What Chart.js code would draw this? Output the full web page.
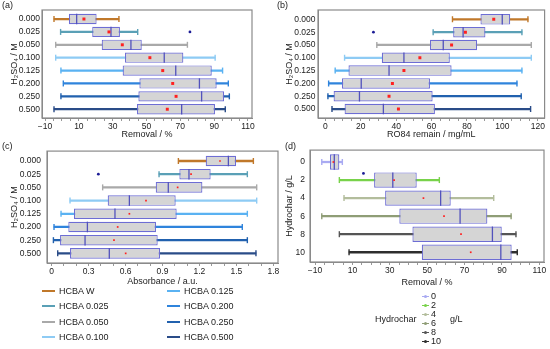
<!DOCTYPE html>
<html>
<head>
<meta charset="utf-8">
<script src="https://cdn.jsdelivr.net/npm/chart.js@4.4.1/dist/chart.umd.min.js"></script>
<style>
  body { margin: 0; width: 550px; height: 349px; background: #fff; position: relative; overflow: hidden;
         font-family: "Liberation Sans", Arial, sans-serif; color: #222; }
  canvas { position: absolute; }
  .t { position: absolute; font-size: 9px; line-height: 12px; white-space: nowrap; }
  .ln { position: absolute; height: 2px; width: 13px; }
</style>
</head>
<body>
<canvas id="ca" width="275" height="142" style="left:0;top:0"></canvas>
<canvas id="cb" width="275" height="142" style="left:275px;top:0"></canvas>
<canvas id="cc" width="285" height="150" style="left:0;top:140px"></canvas>
<canvas id="cd" width="275" height="150" style="left:275px;top:140px"></canvas>
<div class="t" style="left:2px;top:-1px">(a)</div>
<div class="t" style="left:277px;top:-1px">(b)</div>
<div class="t" style="left:2px;top:140px">(c)</div>
<div class="t" style="left:285px;top:140px">(d)</div>
<div id="legC"></div>
<div id="legD"></div>
<script>
// categories
const acidLabels = ['0.000', '0.025', '0.050', '0.100', '0.125', '0.200', '0.250', '0.500'];
const acidNames = ['HCBA W', 'HCBA 0.025', 'HCBA 0.050', 'HCBA 0.100', 'HCBA 0.125', 'HCBA 0.200', 'HCBA 0.250', 'HCBA 0.500'];
const charLabels = ['0', '2', '4', '6', '8', '10'];

// (a) removal / %
const aMin  = [-4.7, -0.8, -3.7, -3.7, -0.6, 0.8, -0.6, -4.7];
const aQ1   = [4.1, 17.9, 23.5, 37.3, 35.9, 45.8, 45.2, 44.4];
const aMed  = [8.7, 29.0, 40.8, 60.5, 67.3, 81.3, 82.6, 70.8];
const aQ3   = [20.5, 34.3, 47.2, 71.8, 88.6, 91.5, 95.9, 90.5];
const aMax  = [33.7, 44.8, 74.2, 90.6, 95.0, 98.4, 99.0, 96.6];
const aMean = [13.0, 27.8, 35.7, 52.0, 59.6, 65.5, 67.5, 62.3];
const aOut  = [{ x: 75.7, y: 1 }];

// (b) RO84 remain / mg/mL
const bMin  = [71.8, 60.9, 29.1, 10.9, 5.6, 1.9, 1.5, 3.8];
const bQ1   = [87.6, 72.2, 59.1, 31.9, 13.1, 9.4, 4.7, 10.9];
const bMed  = [99.9, 77.8, 66.6, 44.4, 36.0, 20.3, 19.3, 32.8];
const bQ3   = [104.4, 90.4, 85.7, 70.3, 71.3, 59.1, 60.6, 61.9];
const bMax  = [114.4, 111.0, 116.3, 116.3, 111.0, 108.2, 110.6, 115.9];
const bMean = [95.1, 79.1, 71.3, 53.4, 44.4, 37.9, 36.0, 41.3];
const bOut  = [{ x: 27.2, y: 1 }];

// (c) absorbance / a.u.
const cMin  = [1.029, 0.872, 0.414, 0.149, 0.076, 0.019, 0.014, 0.049];
const cQ1   = [1.251, 1.037, 0.845, 0.455, 0.181, 0.135, 0.068, 0.149];
const cMed  = [1.435, 1.115, 0.947, 0.631, 0.514, 0.290, 0.271, 0.468];
const cQ3   = [1.497, 1.291, 1.224, 1.007, 1.015, 0.847, 0.861, 0.880];
const cMax  = [1.638, 1.589, 1.665, 1.665, 1.589, 1.548, 1.589, 1.659];
const cMean = [1.367, 1.132, 1.023, 0.766, 0.631, 0.536, 0.506, 0.601];
const cOut  = [{ x: 0.379, y: 1 }];

// (d) removal / % by hydrochar dose
const dMin  = [-6.4, 3.0, 5.5, -6.4, 3.0, 8.2];
const dQ1   = [-2.0, 21.6, 27.5, 35.1, 42.1, 47.1];
const dMed  = [0.3, 31.6, 57.2, 67.6, 84.9, 89.4];
const dQ3   = [3.0, 44.4, 62.6, 82.2, 89.9, 95.2];
const dMax  = [4.6, 56.5, 85.6, 94.9, 97.5, 98.2];
const dMean = [-0.2, 32.3, 48.0, 59.0, 68.1, 73.3];
const dOut  = [{ x: 15.9, y: 0.63 }];

// tick labels
const removalTicks = [-10, 10, 30, 50, 70, 90, 110];
const remainTicks = [0, 20, 40, 60, 80, 100, 120];
const absTicks = [0, 0.3, 0.6, 0.9, 1.2, 1.5, 1.8];

const acidColors = ['#c0782a', '#5aa0b6', '#a9a9a9', '#8ecbf4', '#5ab2f2', '#2f84dc', '#2161ae', '#2a4c88'];
const charColors = ['#a9aaf2', '#78d24a', '#b3bd9c', '#8f9d76', '#555555', '#2e2e2e'];

const fmt = v => (v < 0 ? '\u2212' + Math.abs(v) : String(v));

const framePlugin = {
  id: 'frame',
  afterDatasetsDraw(chart) {
    const { ctx, chartArea: a } = chart;
    ctx.save();
    ctx.strokeStyle = '#8a8a8a';
    ctx.lineWidth = 1.2;
    ctx.strokeRect(a.left, a.top, a.right - a.left, a.bottom - a.top);
    ctx.restore();
  }
};

function boxPlot(id, p) {
  const rows = p.labels.map((_, i) => i);
  const halfBox = ctx => {
    const y = ctx.chart.scales.y;
    return Math.abs(y.getPixelForValue(1) - y.getPixelForValue(0)) * p.boxFrac / 2;
  };
  const minorTicks = [];
  for (let v = Math.ceil(p.xMin / p.minor) * p.minor; v <= p.xMax; v += p.minor) {
    minorTicks.push(Math.round(v * 1000) / 1000);
  }
  const isMajor = v => p.ticks.some(t => Math.abs(t - v) < 1e-6);

  new Chart(document.getElementById(id), {
    type: 'bar',
    data: {
      datasets: [
        { label: 'whisker', data: rows.map(i => ({ x: [p.min[i], p.max[i]], y: i })),
          backgroundColor: p.colors, barThickness: 1.6, grouped: false, order: 6 },
        { label: 'box', data: rows.map(i => ({ x: [p.q1[i], p.q3[i]], y: i })),
          backgroundColor: '#d5d5d5', borderColor: '#6d6dd4', borderWidth: 1.2, borderSkipped: false,
          barPercentage: p.boxFrac, categoryPercentage: 1, grouped: false, order: 5 },
        { type: 'line', label: 'median', data: rows.map(i => ({ x: p.med[i], y: i })), showLine: false,
          pointStyle: 'line', pointRotation: 90, pointRadius: halfBox, pointHoverRadius: halfBox,
          pointBorderColor: '#5252bc', pointBorderWidth: 1.3, order: 4 },
        { type: 'line', label: 'caps', data: rows.flatMap(i => [{ x: p.min[i], y: i }, { x: p.max[i], y: i }]),
          showLine: false, pointStyle: 'line', pointRotation: 90, pointRadius: 3,
          pointBorderColor: rows.flatMap(i => [p.colors[i], p.colors[i]]), pointBorderWidth: 1.4, order: 3 },
        { type: 'line', label: 'mean', data: rows.map(i => ({ x: p.mean[i], y: i })), showLine: false,
          pointStyle: 'rect', pointRadius: p.meanR, pointBackgroundColor: '#ff2020', pointBorderWidth: 0, order: 2 },
        { type: 'line', label: 'outlier', data: p.out, showLine: false,
          pointStyle: 'circle', pointRadius: 1.4, pointBackgroundColor: '#1c1c96', pointBorderWidth: 0, order: 1 }
      ]
    },
    options: {
      responsive: false,
      animation: false,
      devicePixelRatio: 1,
      indexAxis: 'y',
      events: [],
      layout: { padding: p.pad },
      plugins: { legend: { display: false }, tooltip: { enabled: false } },
      scales: {
        x: {
          type: 'linear', min: p.xMin, max: p.xMax,
          afterBuildTicks: s => { s.ticks = minorTicks.map(v => ({ value: v })); },
          afterFit: s => { s.height = p.xH; },
          ticks: { autoSkip: false, maxRotation: 0, padding: 1, color: '#222', font: { size: 8.5 },
                   callback: v => (isMajor(v) ? fmt(v) : '') },
          grid: { drawOnChartArea: false, tickLength: 3, color: '#999' },
          border: { color: '#8a8a8a' },
          title: { display: true, text: p.xTitle, color: '#222', font: { size: 9 },
                   padding: { top: 0, bottom: p.xTitlePad } }
        },
        y: {
          type: 'linear', reverse: true, offset: false, min: p.yMin, max: p.yMax,
          afterBuildTicks: s => { s.ticks = rows.map(v => ({ value: v })); },
          afterFit: s => { s.width = p.yW; },
          ticks: { autoSkip: false, padding: p.yPad, color: '#222', font: { size: 8.5 },
                   callback: v => p.labels[v] },
          grid: { display: false, drawTicks: false },
          border: { color: '#8a8a8a' },
          title: { display: true, text: p.yTitle, color: '#222', font: { size: 9 },
                   padding: { top: 9, bottom: 0 } }
        }
      }
    },
    plugins: [framePlugin]
  });
}

boxPlot('ca', {
  labels: acidLabels, colors: acidColors,
  min: aMin, q1: aQ1, med: aMed, q3: aQ3, max: aMax, mean: aMean, out: aOut,
  ticks: removalTicks, minor: 5, xMin: -11.8, xMax: 112.4, yMin: -0.7, yMax: 7.68,
  xTitle: 'Removal / %', yTitle: 'H\u2082SO\u2084 / M',
  pad: { left: 0, top: 10, right: 23, bottom: 0 }, yW: 42, xH: 24, xTitlePad: 2, yPad: 2,
  boxFrac: 0.8, meanR: 2.1
});

boxPlot('cb', {
  labels: acidLabels, colors: acidColors,
  min: bMin, q1: bQ1, med: bMed, q3: bQ3, max: bMax, mean: bMean, out: bOut,
  ticks: remainTicks, minor: 5, xMin: -4.1, xMax: 123.8, yMin: -0.73, yMax: 7.7,
  xTitle: 'RO84 remain / mg/mL', yTitle: 'H\u2082SO\u2084 / M',
  pad: { left: 0, top: 10, right: 5, bottom: 0 }, yW: 43, xH: 24, xTitlePad: 2, yPad: 2.5,
  boxFrac: 0.82, meanR: 2.1
});

boxPlot('cc', {
  labels: acidLabels, colors: acidColors,
  min: cMin, q1: cQ1, med: cMed, q3: cQ3, max: cMax, mean: cMean, out: cOut,
  ticks: absTicks, minor: 0.1, xMin: -0.038, xMax: 1.838, yMin: -0.75, yMax: 7.73,
  xTitle: 'Absorbance / a.u.', yTitle: 'H\u2082SO\u2084 / M',
  pad: { left: 0, top: 10, right: 7, bottom: 0 }, yW: 47, xH: 27, xTitlePad: 3, yPad: 6,
  boxFrac: 0.8, meanR: 1.2
});

boxPlot('cd', {
  labels: charLabels, colors: charColors,
  min: dMin, q1: dQ1, med: dMed, q3: dQ3, max: dMax, mean: dMean, out: dOut,
  ticks: removalTicks, minor: 5, xMin: -12.7, xMax: 112.5, yMin: -0.66, yMax: 5.54,
  xTitle: 'Removal / %', yTitle: 'Hydrochar / g/L',
  pad: { left: 0, top: 10, right: 6, bottom: 0 }, yW: 35, xH: 28, xTitlePad: 2, yPad: 5,
  boxFrac: 0.85, meanR: 1.2
});

// legend for (c): two columns of four
const legC = document.getElementById('legC');
acidNames.forEach((name, i) => {
  const col = Math.floor(i / 4), row = i % 4;
  const x = col ? 167 : 42;
  const y = 291 + row * 15.3;
  legC.insertAdjacentHTML('beforeend',
    `<div class="ln" style="left:${x}px;top:${y - 1}px;background:${acidColors[i]}"></div>` +
    `<div class="t" style="left:${x + 17}px;top:${y - 6}px">${name}</div>`);
});

// legend for (d)
const legD = document.getElementById('legD');
legD.insertAdjacentHTML('beforeend',
  `<div class="t" style="left:375px;top:313px">Hydrochar</div>` +
  `<div class="t" style="left:450px;top:313px">g/L</div>`);
charLabels.forEach((name, i) => {
  const y = 296 + i * 9;
  legD.insertAdjacentHTML('beforeend',
    `<div style="position:absolute;left:422px;top:${y}px;width:7px;height:1px;background:${charColors[i]}"></div>` +
    `<div style="position:absolute;left:424px;top:${y - 1}px;width:3px;height:3px;border-radius:2px;background:${charColors[i]}"></div>` +
    `<div class="t" style="left:431px;top:${y - 6}px">${name}</div>`);
});
</script>
</body>
</html>
